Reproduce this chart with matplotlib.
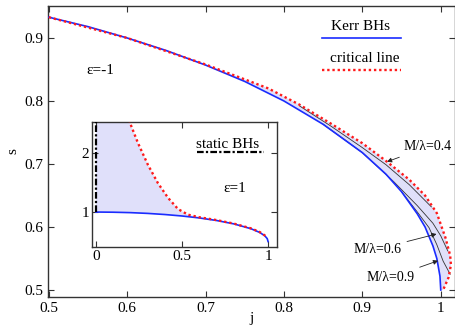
import matplotlib
matplotlib.use("Agg")
import matplotlib.pyplot as plt

plt.rcParams["font.family"] = ["Liberation Serif", "DejaVu Serif"]
plt.rcParams["font.size"] = 11

# main panel (eps = -1)
kerr_j = [0.5, 0.55, 0.6, 0.65, 0.7, 0.75, 0.8, 0.85, 0.9, 0.93, 0.95, 0.97, 0.98, 0.99, 0.995, 0.999, 1.0]
kerr_s = [0.933, 0.918, 0.900, 0.880, 0.857, 0.831, 0.800, 0.763, 0.718, 0.684, 0.656, 0.621, 0.600, 0.570, 0.550, 0.522, 0.500]

crit_j = [0.5, 0.6, 0.7, 0.78, 0.82, 0.86, 0.9, 0.93, 0.96, 0.98, 0.995, 1.006, 1.012, 1.013, 1.01, 1.003]
crit_s = [0.933, 0.900, 0.858, 0.820, 0.794, 0.764, 0.733, 0.705, 0.675, 0.650, 0.622, 0.583, 0.555, 0.540, 0.520, 0.500]

ml04_j = [0.82, 0.86, 0.9, 0.93, 0.96, 0.988]
ml04_s = [0.792, 0.760, 0.726, 0.699, 0.667, 0.632]
ml06_j = [0.85, 0.9, 0.94, 0.97, 0.99, 1.0, 1.009]
ml06_s = [0.763, 0.718, 0.672, 0.634, 0.606, 0.586, 0.562]
ml09_j = [0.95, 0.97, 0.985, 0.995, 1.003, 1.012]
ml09_s = [0.656, 0.624, 0.599, 0.572, 0.546, 0.525]

# inset (eps = 1)
in_kerr_j = [0.0, 0.1, 0.2, 0.3, 0.4, 0.5, 0.6, 0.7, 0.8, 0.9, 0.95, 0.98, 0.995, 1.0]
in_kerr_s = [1.0, 0.997, 0.990, 0.977, 0.958, 0.933, 0.900, 0.857, 0.800, 0.718, 0.656, 0.600, 0.550, 0.500]
in_crit_j = [0.19, 0.198, 0.244, 0.302, 0.36, 0.419, 0.477, 0.535, 0.6, 0.7, 0.8, 0.9, 0.95, 0.99]
in_crit_s = [2.65, 2.51, 2.17, 1.80, 1.49, 1.24, 1.05, 0.955, 0.912, 0.864, 0.805, 0.724, 0.664, 0.585]
static_j = [0.0, 0.0]
static_s = [1.0, 2.65]

shade = "#e0e0fa"

fig = plt.figure(figsize=(4.56, 3.27), dpi=100)
ax = fig.add_axes([0.105, 0.0917, 0.8925, 0.89])

poly_j = crit_j + kerr_j[::-1]
poly_s = crit_s + kerr_s[::-1]
ax.fill(poly_j, poly_s, color=shade, lw=0, zorder=1)
ax.plot(ml04_j, ml04_s, color="#333333", lw=0.6, zorder=2)
ax.plot(ml06_j, ml06_s, color="#333333", lw=0.6, zorder=2)
ax.plot(ml09_j, ml09_s, color="#333333", lw=0.6, zorder=2)
ax.plot(kerr_j, kerr_s, color="#1a2cff", lw=1.2, zorder=3)
ax.plot(crit_j, crit_s, color="#ff1a1a", lw=1.7, ls=(0, (1, 1.2)), zorder=4)

ax.set_xlim(0.4988, 1.018)
ax.set_ylim(0.4889, 0.9508)
ax.set_xticks([0.5, 0.6, 0.7, 0.8, 0.9, 1.0])
ax.set_xticklabels(["0.5", "0.6", "0.7", "0.8", "0.9", "1"])
ax.set_yticks([0.5, 0.6, 0.7, 0.8, 0.9])
ax.tick_params(direction="in", top=True, right=True, length=4, width=0.8, colors="#333333", labelcolor="black")
for sp in ax.spines.values():
    sp.set_color("#333333")
    sp.set_linewidth(1.0)
ax.set_xlabel("j", labelpad=-2)
ax.set_ylabel("s", labelpad=3)

# legend drawn gnuplot-style: text above sample line
ax.text(0.767, 0.931, "Kerr BHs", transform=ax.transAxes, ha="center", va="center")
ax.plot([0.673, 0.867], [0.890, 0.890], transform=ax.transAxes, color="#1a2cff", lw=1.2)
ax.text(0.779, 0.821, "critical line", transform=ax.transAxes, ha="center", va="center")
ax.plot([0.673, 0.867], [0.780, 0.780], transform=ax.transAxes, color="#ff1a1a", lw=1.7, ls=(0, (1, 1.2)))
ax.text(0.128, 0.777, "ε=-1", transform=ax.transAxes, ha="center", va="center")

arrow = dict(arrowstyle="-|>", color="#222222", lw=0.6, mutation_scale=7)
ax.annotate("M/λ=0.4", xy=(0.928, 0.702), xytext=(0.952, 0.727), fontsize=10,
            ha="left", va="center", arrowprops=arrow)
ax.annotate("M/λ=0.6", xy=(0.998, 0.590), xytext=(0.950, 0.565), fontsize=10,
            ha="right", va="center", arrowprops=arrow)
ax.annotate("M/λ=0.9", xy=(1.0, 0.548), xytext=(0.967, 0.520), fontsize=10,
            ha="right", va="center", arrowprops=arrow)

# inset
ins = fig.add_axes([0.2018, 0.2446, 0.4057, 0.382])
ins_poly_j = in_crit_j + in_kerr_j[-4::-1] + [static_j[1]]
ins_poly_s = in_crit_s + in_kerr_s[-4::-1] + [static_s[1]]
ins.fill(ins_poly_j, ins_poly_s, color=shade, lw=0, zorder=1)
ins.plot(in_kerr_j, in_kerr_s, color="#1a2cff", lw=1.2, zorder=3)
ins.plot(in_crit_j, in_crit_s, color="#ff1a1a", lw=1.7, ls=(0, (1, 1.2)), zorder=4)
ins.plot(static_j, static_s, color="black", lw=1.6, ls=(0, (3, 1, 1, 1)), zorder=5)
ins.set_xlim(-0.023, 1.052)
ins.set_ylim(0.407, 2.525)
ins.set_xticks([0, 0.5, 1])
ins.set_xticklabels(["0", "0.5", "1"])
ins.set_yticks([1, 2])
ins.tick_params(direction="in", top=True, right=True, length=4, width=0.8, colors="#333333", labelcolor="black", pad=2)
for sp in ins.spines.values():
    sp.set_color("#333333")
    sp.set_linewidth(1.0)
ins.text(0.735, 0.824, "static BHs", transform=ins.transAxes, ha="center", va="center")
ins.plot([0.568, 0.93], [0.76, 0.76], transform=ins.transAxes, color="black", lw=1.6, ls=(0, (3, 1, 1, 1)))
ins.text(0.773, 0.472, "ε=1", transform=ins.transAxes, ha="center", va="center")

fig.savefig("out.png", dpi=100)
